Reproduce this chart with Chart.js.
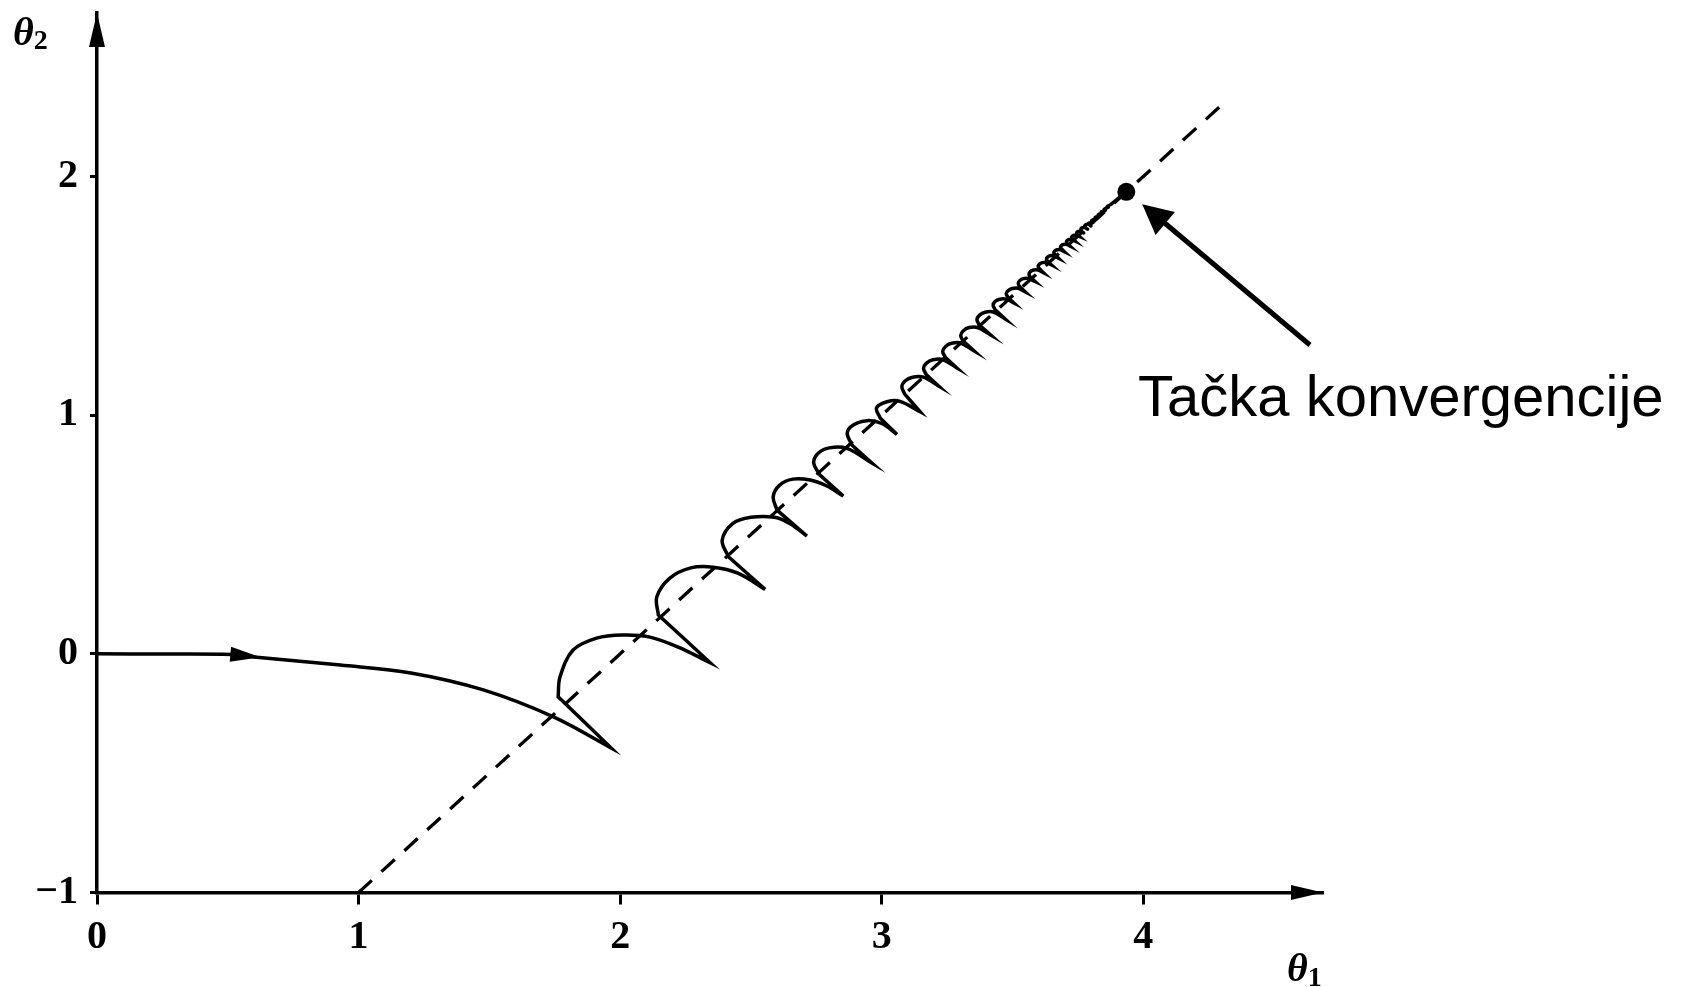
<!DOCTYPE html>
<html>
<head>
<meta charset="utf-8">
<script src="https://cdn.jsdelivr.net/npm/chart.js@4.4.0/dist/chart.umd.min.js"></script>
<style>
html,body{margin:0;padding:0;background:#ffffff;}
canvas{display:block;}
</style>
</head>
<body>
<canvas id="c" width="1686" height="987"></canvas>
<script>
// ---- data ----
const xTicks = [0, 1, 2, 3, 4];
const yTicks = [-1, 0, 1, 2];
const xTickLabels = ['0', '1', '2', '3', '4'];
const yTickLabels = ['\u22121', '0', '1', '2'];

// trajectory (θ1, θ2); repeated points mark cusps
const theta1 = [
0, 0.25, 0.513, 0.60, 0.93, 1.20, 1.477, 1.747, 1.965, 1.965,
1.763, 1.763, 1.77, 1.82, 1.91, 2.01, 2.11, 2.22, 2.344, 2.344,
2.146, 2.146, 2.14, 2.19, 2.27, 2.355, 2.45, 2.554, 2.554,
2.414, 2.414, 2.39, 2.43, 2.50, 2.59, 2.65, 2.714, 2.714,
2.60, 2.60, 2.585, 2.61, 2.66, 2.727, 2.79, 2.853, 2.853,
2.764, 2.764, 2.74, 2.757, 2.80, 2.867, 2.962, 2.962,
2.886, 2.886, 2.868, 2.89, 2.943, 3.00, 3.058, 3.058,
2.994, 2.994, 2.98, 3.02, 3.07, 3.147, 3.147,
3.088, 3.088, 3.077, 3.089, 3.118, 3.159, 3.219, 3.219,
3.17, 3.17, 3.160, 3.171, 3.196, 3.233, 3.286, 3.286,
3.243, 3.243, 3.233, 3.244, 3.267, 3.302, 3.352, 3.352,
3.311, 3.311, 3.302, 3.312, 3.334, 3.367, 3.415, 3.415,
3.373, 3.373, 3.364, 3.374, 3.395, 3.427, 3.472, 3.472,
3.433, 3.433, 3.426, 3.433, 3.451, 3.476, 3.505, 3.505,
3.483, 3.483, 3.476, 3.483, 3.499, 3.522, 3.548, 3.548,
3.528, 3.528, 3.522, 3.528, 3.542, 3.562, 3.586, 3.586,
3.568, 3.568, 3.563, 3.568, 3.580, 3.598, 3.618, 3.618,
3.603, 3.603, 3.598, 3.603, 3.614, 3.630, 3.648, 3.648,
3.634, 3.634, 3.630, 3.634, 3.644, 3.658, 3.674, 3.674,
3.662, 3.662, 3.658, 3.662, 3.671, 3.683, 3.698, 3.698,
3.687, 3.687, 3.683, 3.687, 3.694, 3.706, 3.719, 3.719,
3.709, 3.709, 3.706, 3.709, 3.716, 3.726, 3.738, 3.738,
3.729, 3.729, 3.726, 3.729, 3.735, 3.744, 3.755, 3.755,
3.747, 3.747, 3.760, 3.772,
3.763, 3.763, 3.776, 3.787,
3.778, 3.778, 3.790, 3.800,
3.790, 3.809, 3.803, 3.822, 3.816, 3.833, 3.828, 3.845, 3.840, 3.855, 3.851, 3.866, 3.862, 3.876,
3.935
];
const theta2 = [
0, -0.001, -0.003, -0.013, -0.047, -0.08, -0.151, -0.265, -0.394, -0.394,
-0.18, -0.18, -0.097, 0.016, 0.066, 0.079, 0.071, 0.029, -0.037, -0.037,
0.163, 0.163, 0.238, 0.317, 0.36, 0.363, 0.338, 0.27, 0.27,
0.407, 0.407, 0.475, 0.546, 0.572, 0.572, 0.545, 0.493, 0.493,
0.602, 0.602, 0.658, 0.707, 0.732, 0.728, 0.703, 0.661, 0.661,
0.749, 0.749, 0.80, 0.84, 0.863, 0.861, 0.80, 0.80,
0.875, 0.875, 0.925, 0.958, 0.977, 0.965, 0.92, 0.92,
0.988, 0.988, 1.03, 1.056, 1.058, 1.014, 1.014,
1.088, 1.088, 1.118, 1.143, 1.159, 1.159, 1.121, 1.121,
1.17, 1.17, 1.196, 1.218, 1.232, 1.233, 1.199, 1.199,
1.243, 1.243, 1.267, 1.288, 1.301, 1.302, 1.270, 1.270,
1.311, 1.311, 1.334, 1.354, 1.367, 1.367, 1.337, 1.337,
1.378, 1.378, 1.400, 1.419, 1.431, 1.432, 1.403, 1.403,
1.443, 1.443, 1.461, 1.476, 1.486, 1.486, 1.470, 1.470,
1.493, 1.493, 1.509, 1.522, 1.531, 1.532, 1.517, 1.517,
1.538, 1.538, 1.552, 1.564, 1.572, 1.572, 1.560, 1.560,
1.578, 1.578, 1.590, 1.601, 1.608, 1.608, 1.597, 1.597,
1.613, 1.613, 1.624, 1.633, 1.639, 1.640, 1.630, 1.630,
1.644, 1.644, 1.654, 1.662, 1.668, 1.668, 1.659, 1.659,
1.672, 1.672, 1.681, 1.688, 1.693, 1.693, 1.685, 1.685,
1.697, 1.697, 1.704, 1.711, 1.715, 1.716, 1.709, 1.709,
1.719, 1.719, 1.726, 1.732, 1.736, 1.736, 1.730, 1.730,
1.739, 1.739, 1.745, 1.751, 1.754, 1.754, 1.749, 1.749,
1.757, 1.767, 1.770, 1.763,
1.773, 1.783, 1.786, 1.779,
1.788, 1.797, 1.800, 1.793,
1.803, 1.809, 1.816, 1.823, 1.828, 1.835, 1.840, 1.848, 1.852, 1.859, 1.863, 1.871, 1.874, 1.883,
1.936
];

// dashed line θ2 = θ1 − 2
const dashTheta1 = [1, 4.308];
const dashTheta2 = [-1, 2.308];

// convergence point
const convTheta1 = [3.935];
const convTheta2 = [1.936];

// annotations (data coordinates)
const startArrowBase = [0.51, -0.002];
const startArrowTip = [0.625, -0.014];
const noteArrowTail = [4.637, 1.294];
const noteArrowTip = [3.996, 1.884];
const noteText = 'Tačka konvergencije';
const noteAnchor = [3.98, 0.996];
const xRange = [0, 4.687];
const yRange = [-1, 2.685];

// ---- chart ----
const pts = (a, b) => a.map((v, i) => ({x: v, y: b[i]}));

function tri(ctx, tx, ty, ux, uy, len, hw) {
  const bx = tx - ux * len, by = ty - uy * len;
  ctx.beginPath();
  ctx.moveTo(tx, ty);
  ctx.lineTo(bx - uy * hw, by + ux * hw);
  ctx.lineTo(bx + uy * hw, by - ux * hw);
  ctx.closePath();
  ctx.fill();
}

const deco = {
  id: 'deco',
  afterDraw(chart) {
    const {ctx, chartArea: a, scales: {x, y}} = chart;
    ctx.save();
    ctx.fillStyle = '#000';
    ctx.strokeStyle = '#000';
    // axis arrowheads
    tri(ctx, a.left, a.top, 0, -1, 34, 8);
    tri(ctx, a.right, a.bottom, 1, 0, 32, 7.5);
    // arrow on the trajectory
    {
      const bx = x.getPixelForValue(startArrowBase[0]), by = y.getPixelForValue(startArrowBase[1]);
      const tx = x.getPixelForValue(startArrowTip[0]), ty = y.getPixelForValue(startArrowTip[1]);
      const L = Math.hypot(tx - bx, ty - by);
      tri(ctx, tx, ty, (tx - bx) / L, (ty - by) / L, L, 7.5);
    }
    // annotation arrow
    {
      const sx = x.getPixelForValue(noteArrowTail[0]), sy = y.getPixelForValue(noteArrowTail[1]);
      const tx = x.getPixelForValue(noteArrowTip[0]), ty = y.getPixelForValue(noteArrowTip[1]);
      const L = Math.hypot(tx - sx, ty - sy);
      const ux = (tx - sx) / L, uy = (ty - sy) / L;
      ctx.lineWidth = 5;
      ctx.beginPath();
      ctx.moveTo(sx, sy);
      ctx.lineTo(tx - ux * 25, ty - uy * 25);
      ctx.stroke();
      tri(ctx, tx, ty, ux, uy, 30, 15);
    }
    // annotation text
    ctx.font = '58px "Liberation Sans", Arial, sans-serif';
    ctx.textAlign = 'left';
    ctx.textBaseline = 'alphabetic';
    ctx.fillText(noteText, x.getPixelForValue(noteAnchor[0]), y.getPixelForValue(noteAnchor[1]));
    // axis titles
    const bigTheta = 'italic bold 40px "Liberation Serif", "Times New Roman", serif';
    const subFont = 'bold 28px "Liberation Serif", "Times New Roman", serif';
    ctx.font = bigTheta;
    ctx.fillText('\u03B8', a.left - 84, a.top + 32);
    let w = ctx.measureText('\u03B8').width;
    ctx.font = subFont;
    ctx.fillText('2', a.left - 84 + w, a.top + 36);
    ctx.font = bigTheta;
    ctx.fillText('\u03B8', a.right - 36, a.bottom + 88);
    w = ctx.measureText('\u03B8').width;
    ctx.font = subFont;
    ctx.fillText('1', a.right - 36 + w, a.bottom + 93);
    ctx.restore();
  }
};

const tickFont = {family: '"Liberation Serif", "Times New Roman", serif', size: 40, weight: 'bold'};

new Chart(document.getElementById('c'), {
  type: 'line',
  data: {
    datasets: [
      {
        label: 'trajectory',
        data: pts(theta1, theta2),
        borderColor: '#000',
        borderWidth: 3.5,
        pointRadius: 0,
        tension: 0.35,
        fill: false,
        order: 1
      },
      {
        label: 'ravine',
        data: pts(dashTheta1, dashTheta2),
        borderColor: '#000',
        borderWidth: 3.3,
        borderDash: [18, 13],
        pointRadius: 0,
        tension: 0,
        fill: false,
        order: 2
      },
      {
        label: 'convergence',
        data: pts(convTheta1, convTheta2),
        showLine: false,
        pointRadius: 9,
        pointBackgroundColor: '#000',
        pointBorderColor: '#000',
        pointBorderWidth: 0,
        order: 0
      }
    ]
  },
  options: {
    responsive: false,
    animation: false,
    devicePixelRatio: 1,
    layout: {padding: {left: 0, top: 13, right: 363, bottom: 0}},
    plugins: {legend: {display: false}, tooltip: {enabled: false}},
    scales: {
      x: {
        type: 'linear',
        min: xRange[0],
        max: xRange[1],
        afterBuildTicks: s => { s.ticks = xTicks.map(v => ({value: v})); },
        afterFit: s => { s.height = 94.5; s.paddingLeft = 0; s.paddingRight = 0; },
        ticks: {
          autoSkip: false, maxRotation: 0, minRotation: 0, padding: 9,
          font: tickFont, color: '#000',
          callback: (v, i) => xTickLabels[i]
        },
        grid: {display: true, drawOnChartArea: false, drawTicks: true, tickLength: 12, tickWidth: 3, tickColor: '#000'},
        border: {display: true, color: '#000', width: 3.5}
      },
      y: {
        type: 'linear',
        min: yRange[0],
        max: yRange[1],
        afterBuildTicks: s => { s.ticks = yTicks.map(v => ({value: v})); },
        afterFit: s => { s.width = 97; s.paddingTop = 0; s.paddingBottom = 0; },
        ticks: {
          autoSkip: false, padding: 12,
          font: tickFont, color: '#000',
          callback: (v, i) => yTickLabels[i]
        },
        grid: {display: true, drawOnChartArea: false, drawTicks: true, tickLength: 7, tickWidth: 3, tickColor: '#000'},
        border: {display: true, color: '#000', width: 3.5}
      }
    }
  },
  plugins: [deco]
});
</script>
</body>
</html>
